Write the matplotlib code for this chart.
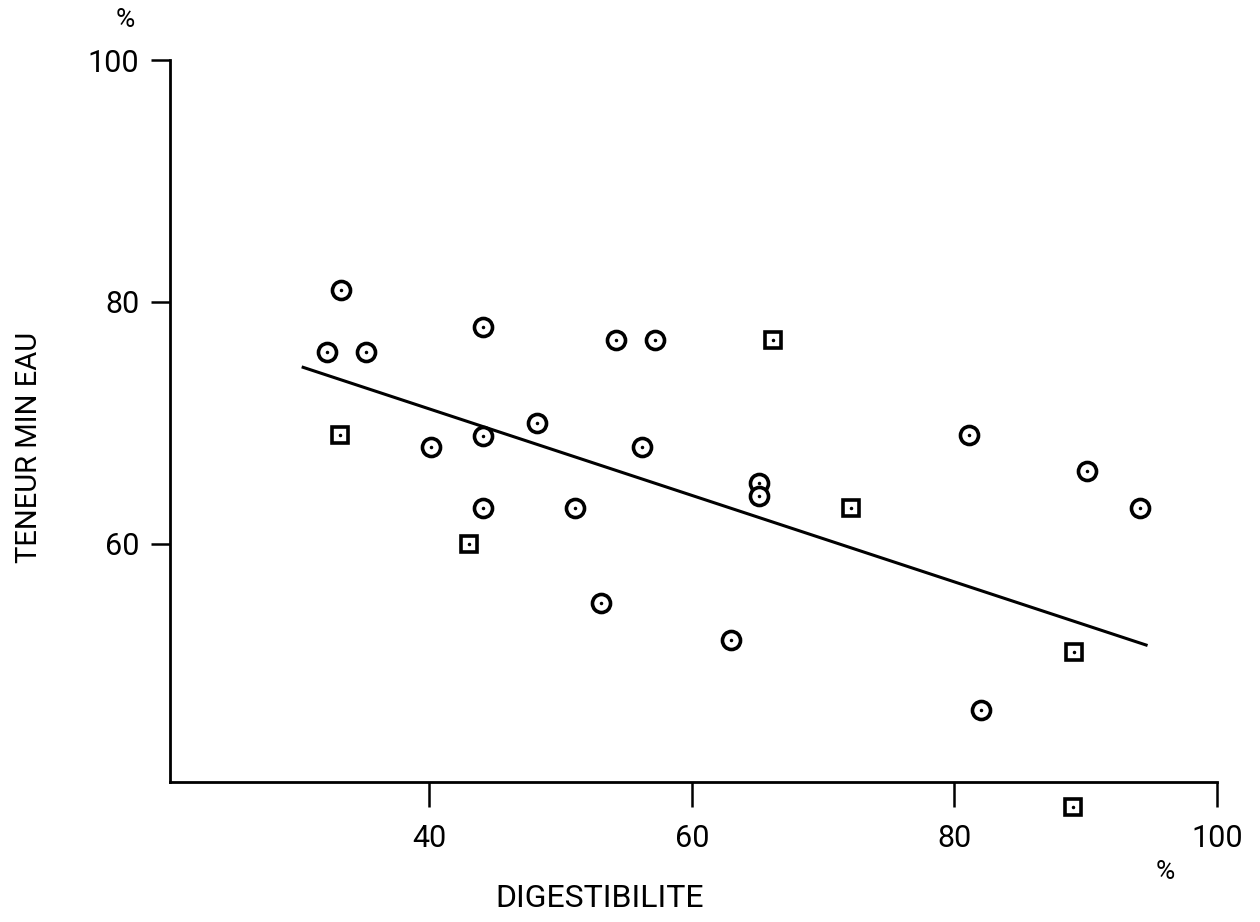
import matplotlib.pyplot as plt
import numpy as np

# digestibility (%) / min water content (%)
circ_x = [33.3, 32.2, 35.2, 40.1, 44.1, 44.1, 44.1, 48.2, 51.1, 53.1,
          54.2, 57.2, 56.2, 63.0, 65.1, 65.1, 81.1, 82.0, 90.1, 94.1]
circ_y = [81.0, 75.9, 75.9, 68.0, 77.9, 68.9, 63.0, 70.0, 63.0, 55.1,
          76.9, 76.9, 68.0, 52.1, 65.0, 64.0, 69.0, 46.3, 66.0, 63.0]
sq_x = [33.2, 43.0, 66.2, 72.1, 89.1, 89.0]
sq_y = [69.0, 60.0, 76.9, 63.0, 51.1, 38.3]

fit_x = [30.4, 94.6]
fit_y = [74.6, 51.65]

xticks = [40, 60, 80, 100]
yticks = [60, 80, 100]

plt.rcParams['font.family'] = ['Roboto', 'DejaVu Sans']

fig = plt.figure(figsize=(12.6, 9.22), dpi=100)
ax = fig.add_axes([170 / 1260, 1 - 782 / 922, (1217 - 170) / 1260, (782 - 60) / 922])
ax.set_xlim(20.26, 100)
ax.set_ylim(40.33, 100)

mk = dict(mfc='white', mec='black', mew=2.6, ls='none', clip_on=False)
ax.plot(circ_x, circ_y, marker='o', ms=13, **mk)
ax.plot(sq_x, sq_y, marker='s', ms=11.5, **mk)
ax.plot(circ_x + sq_x, circ_y + sq_y, marker='.', ms=3, color='black',
        ls='none', clip_on=False)
ax.plot(fit_x, fit_y, color='black', lw=2.2)

for s in ['top', 'right']:
    ax.spines[s].set_visible(False)
for s in ['left', 'bottom']:
    ax.spines[s].set_linewidth(2.0)

ax.set_xticks(xticks)
ax.set_yticks(yticks)
ax.set_xticklabels([str(v) for v in xticks])
ax.set_yticklabels([str(v) for v in yticks])
ax.tick_params(axis='x', direction='out', length=18, width=1.8, pad=12,
               labelsize=22)
ax.tick_params(axis='y', direction='out', length=14, width=1.8, pad=8,
               labelsize=22)

fig.text(600 / 1260, 1 - 898 / 922, 'DIGESTIBILITE', ha='center', va='center',
         fontsize=23)
fig.text(29 / 1260, 1 - 447 / 922, 'TENEUR MIN EAU', ha='center', va='center',
         rotation=90, fontsize=21)
fig.text(125 / 1260, 1 - 20 / 922, '%', ha='center', va='center', fontsize=19)
fig.text(1165 / 1260, 1 - 872 / 922, '%', ha='center', va='center', fontsize=19)

fig.savefig('out.png', dpi=100)
